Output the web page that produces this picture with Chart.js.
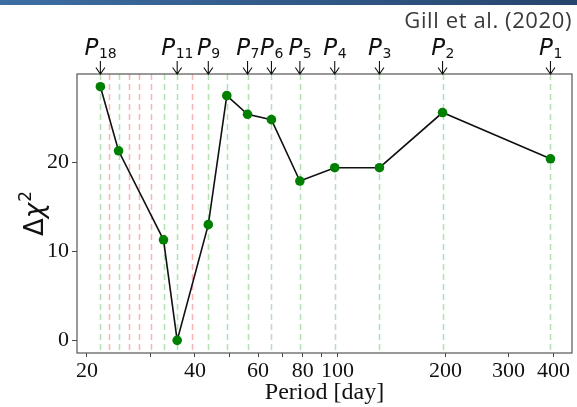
<!DOCTYPE html>
<html>
<head>
<meta charset="utf-8">
<script src="https://cdn.jsdelivr.net/npm/chart.js@4.4.1/dist/chart.umd.min.js"></script>
<style>
  html, body { margin: 0; padding: 0; background: #fff; }
  #wrap { position: relative; width: 577px; height: 407px; overflow: hidden; }
  #bar { position: absolute; left: 0; top: 0; width: 577px; height: 5px; background: linear-gradient(90deg, #3d6ea3, #26456d); }
  #cite { position: absolute; right: 5px; top: 6px; font-family: 'Open Sans', sans-serif; font-size: 22px; letter-spacing: 0.6px; line-height: 26px; color: #3a3a3a; }
  canvas { position: absolute; left: 0; top: 0; }
</style>
</head>
<body>
<div id="wrap">
  <canvas id="chart" width="577" height="407"></canvas>
  <div id="bar"></div>
  <div id="cite">Gill et al. (2020)</div>
</div>
<script>
// periods [day] and delta chi^2 of each harmonic
const periods = [21.8, 24.5, 32.7, 35.7, 43.6, 49.1, 56.1, 65.4, 78.5, 98.2, 130.9, 196.3, 392.6];
const deltaChi2 = [28.5, 21.3, 11.3, 0.0, 13.0, 27.5, 25.4, 24.8, 17.9, 19.4, 19.4, 25.6, 20.4];

// harmonics without a point (red dashed lines)
const missingPeriods = [23.1, 26.2, 28.0, 30.2, 39.3];

// labelled harmonics on top of the frame
const topLabels = ['18', '11', '9', '7', '6', '5', '4', '3', '2', '1'];
const topPeriods = [21.8, 35.7, 43.6, 56.1, 65.4, 78.5, 98.2, 130.9, 196.3, 392.6];

const xTicks = [20, 30, 40, 50, 60, 70, 80, 90, 100, 200, 300, 400];
const xLabels = [20, 40, 60, 80, 100, 200, 300, 400];
const yTicks = [0, 10, 20];

const serif = "'Liberation Serif', 'DejaVu Serif', serif";
const sans = "'DejaVu Sans', sans-serif";

const markerLines = {
    id: 'markerLines',
    beforeDatasetsDraw(chart) {
        const { ctx, chartArea: a, scales: { x } } = chart;
        ctx.save();
        ctx.lineWidth = 1.5;
        ctx.setLineDash([6, 4]);
        const draw = (vals, color) => {
            ctx.strokeStyle = color;
            vals.forEach(v => {
                const px = Math.round(x.getPixelForValue(v)) + 0.5;
                ctx.beginPath();
                ctx.moveTo(px, a.top);
                ctx.lineTo(px, a.bottom);
                ctx.stroke();
            });
        };
        draw(periods, 'rgba(120,200,120,0.55)');
        draw(missingPeriods, 'rgba(240,120,120,0.55)');
        ctx.restore();
    },
    afterDraw(chart) {
        const { ctx, chartArea: a, scales: { x } } = chart;
        ctx.save();
        // frame
        ctx.strokeStyle = '#555';
        ctx.lineWidth = 1.2;
        ctx.strokeRect(a.left, a.top, a.right - a.left, a.bottom - a.top);
        // arrows + P labels
        ctx.strokeStyle = '#111';
        ctx.fillStyle = '#111';
        ctx.lineWidth = 1.1;
        topPeriods.forEach((v, i) => {
            const px = x.getPixelForValue(v);
            ctx.beginPath();
            ctx.moveTo(px, a.top - 13);
            ctx.lineTo(px, a.top);
            ctx.moveTo(px - 4.5, a.top - 6.5);
            ctx.lineTo(px, a.top);
            ctx.lineTo(px + 4.5, a.top - 6.5);
            ctx.stroke();

            ctx.font = 'italic 23px ' + sans;
            const wP = ctx.measureText('P').width;
            ctx.font = '14px ' + sans;
            const wS = ctx.measureText(topLabels[i]).width;
            const left = px - (wP + wS) / 2;
            ctx.textBaseline = 'alphabetic';
            ctx.textAlign = 'left';
            ctx.font = 'italic 23px ' + sans;
            ctx.fillText('P', left, 55);
            ctx.font = '14px ' + sans;
            ctx.fillText(topLabels[i], left + wP + 0.5, 58);
        });
        // y axis title: delta chi squared
        ctx.translate(43, 214);
        ctx.rotate(-Math.PI / 2);
        ctx.font = '26px ' + sans;
        const wD = ctx.measureText('Δ').width;
        ctx.font = 'italic 26px ' + sans;
        const wC = ctx.measureText('χ').width;
        ctx.font = '17px ' + sans;
        const w2 = ctx.measureText('2').width;
        let cx = -(wD + wC + w2) / 2;
        ctx.font = '26px ' + sans;
        ctx.fillText('Δ', cx, 0);
        cx += wD;
        ctx.font = 'italic 26px ' + sans;
        ctx.fillText('χ', cx, 0);
        cx += wC + 1;
        ctx.font = '17px ' + sans;
        ctx.fillText('2', cx, -12);
        ctx.restore();
    }
};

new Chart(document.getElementById('chart'), {
    type: 'scatter',
    data: {
        datasets: [{
            data: periods.map((p, i) => ({ x: p, y: deltaChi2[i] })),
            showLine: true,
            borderColor: '#111',
            borderWidth: 1.6,
            backgroundColor: '#008000',
            pointBackgroundColor: '#008000',
            pointBorderColor: '#008000',
            pointRadius: 4.8,
            pointBorderWidth: 0
        }]
    },
    options: {
        responsive: false,
        animation: false,
        layout: { padding: { left: 0, top: 74, right: 5, bottom: 0 } },
        plugins: { legend: { display: false }, tooltip: { enabled: false } },
        scales: {
            x: {
                type: 'logarithmic',
                min: 18.76,
                max: 450.8,
                afterBuildTicks: s => { s.ticks = xTicks.map(v => ({ value: v })); },
                afterFit: s => { s.height = 54; },
                ticks: {
                    autoSkip: false,
                    maxRotation: 0,
                    padding: 1,
                    color: '#111',
                    font: { family: serif, size: 22 },
                    callback: v => xLabels.includes(v) ? String(v) : ''
                },
                grid: { drawOnChartArea: false, tickLength: 4, color: '#444' },
                border: { display: false },
                title: { display: true, text: 'Period [day]', color: '#111', font: { family: serif, size: 24 }, padding: { top: -6, bottom: 0 } }
            },
            y: {
                min: -1.42,
                max: 29.93,
                afterBuildTicks: s => { s.ticks = yTicks.map(v => ({ value: v })); },
                afterFit: s => { s.width = 77; },
                ticks: { padding: 3, color: '#111', font: { family: serif, size: 22 } },
                grid: { drawOnChartArea: false, tickLength: 5, color: '#444' },
                border: { display: false },
                title: { display: false }
            }
        }
    },
    plugins: [markerLines]
});
</script>
</body>
</html>
